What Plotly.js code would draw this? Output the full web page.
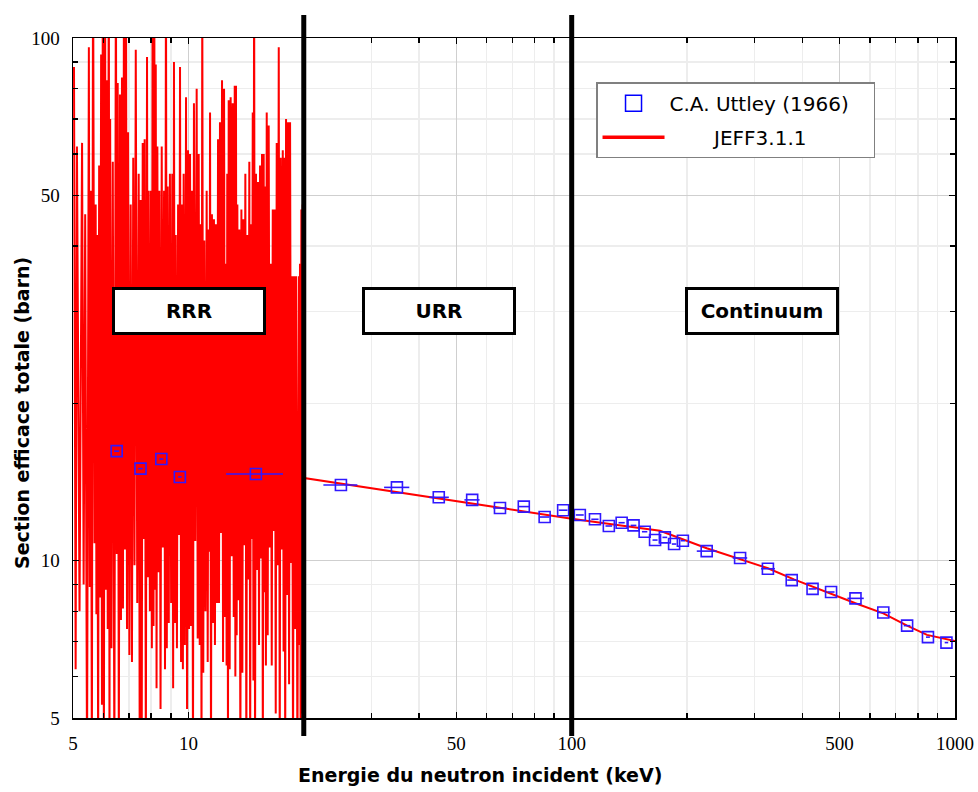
<!DOCTYPE html>
<html>
<head>
<meta charset="utf-8">
<script src="https://cdn.plot.ly/plotly-3.0.1.min.js"></script>
<style>html,body{margin:0;padding:0;background:#fff;}</style>
</head>
<body>
<div id="chart" style="width:978px;height:792px;"></div>
<script>
// ---- C.A. Uttley (1966) experimental points ----
const uttleyE = [6.5, 7.5, 8.5, 9.5, 15, 25, 35, 45, 55, 65, 75, 85, 95, 105, 115, 125, 135, 145, 155, 165, 175, 185, 195, 225, 275, 325, 375, 425, 475, 550, 650, 750, 850, 950];
const uttleySigma = [16.2, 15.0, 15.65, 14.46, 14.65, 13.96, 13.81, 13.22, 13.07, 12.61, 12.69, 12.12, 12.49, 12.23, 12.0, 11.65, 11.82, 11.68, 11.36, 10.95, 11.08, 10.76, 10.92, 10.43, 10.12, 9.65, 9.18, 8.83, 8.71, 8.47, 7.96, 7.51, 7.14, 6.97];
const uttleyErrMinus = [0.1, 0.1, 0.1, 0.1, 2.46, 2.5, 2.6, 2.5, 2.5, 2.6, 2.5, 2.5, 2.5, 2.5, 2.5, 2.5, 2.5, 2.5, 2.5, 2.5, 2.5, 2.5, 2.5, 13, 12, 13, 10, 10, 10, 26, 23, 15, 10, 10];
const uttleyErrPlus  = [0.1, 0.1, 0.1, 0.1, 2.65, 2.6, 2.7, 2.8, 2.5, 2.6, 2.5, 2.5, 2.5, 2.5, 2.5, 2.5, 2.5, 2.5, 2.5, 2.5, 2.5, 2.5, 2.5, 14, 12, 14, 10, 10, 10, 28, 29, 15, 10, 10];

// ---- JEFF3.1.1 : resolved resonance range (peak / dip pairs) ----
const resE = [
5.03,5.08, 5.12,5.20, 5.28,5.33, 5.38,5.44, 5.50,5.53, 5.56,5.60, 5.64,5.69, 5.73,5.755, 5.78,5.815, 5.85,5.885,
5.92,5.95, 5.98,6.02, 6.06,6.09, 6.12,6.16, 6.20,6.225, 6.25,6.30, 6.35,6.41, 6.47,6.505, 6.54,6.585, 6.63,6.67,
6.71,6.75, 6.79,6.83, 6.87,6.915, 6.96,7.015, 7.07,7.125, 7.18,7.235, 7.29,7.355, 7.42,7.465, 7.51,7.555, 7.60,7.645,
7.69,7.745, 7.80,7.84, 7.88,7.935, 7.99,8.03, 8.07,8.11, 8.15,8.185, 8.22,8.26, 8.30,8.35, 8.40,8.46, 8.52,8.58,
8.64,8.69, 8.74,8.785, 8.83,8.89, 8.95,9.015, 9.08,9.125, 9.17,9.22, 9.27,9.335, 9.40,9.455, 9.51,9.57, 9.63,9.675,
9.72,9.79, 9.86,9.92, 9.98,10.04, 10.10,10.16, 10.22,10.28, 10.34,10.425, 10.51,10.575, 10.64,10.705, 10.77,10.82, 10.87,10.935,
11.00,11.08, 11.16,11.23, 11.30,11.345, 11.39,11.455, 11.52,11.59, 11.66,11.73, 11.80,11.875, 11.95,12.02, 12.09,12.165, 12.24,12.315,
12.39,12.46, 12.53,12.58, 12.63,12.685, 12.74,12.815, 12.89,12.97, 13.05,13.13, 13.21,13.26, 13.31,13.365, 13.42,13.50, 13.58,13.665,
13.75,13.83, 13.91,13.995, 14.08,14.165, 14.25,14.335, 14.42,14.495, 14.57,14.645, 14.72,14.78, 14.84,14.925, 15.01,15.10, 15.19,15.285,
15.38,15.47, 15.56,15.64, 15.72,15.785, 15.85,15.93, 16.01,16.105, 16.20,16.30, 16.40,16.50, 16.60,16.70, 16.80,16.90, 17.00,17.105,
17.21,17.31, 17.41,17.52, 17.63,17.715, 17.80,17.89, 17.98,18.09, 18.20,18.31, 18.42,18.53, 18.64,18.75, 18.86,18.975, 19.09,19.25,
19.41,19.48, 19.55,19.63, 19.71,19.79, 19.87,19.94
];
const resSigma = [
88,6.2, 62,8.0, 63,9.0, 46,4, 96,8.9, 51,4, 160,10.8, 48,7.9, 42,4, 57,8.5,
93,5.3, 140,4, 210,8.8, 83,7.4, 180,4, 70,6.8, 58,4, 150,10.3, 82,4, 78,7.7,
84,8.1, 130,10.5, 200,7.4, 66,6.6, 48,6.4, 59,9.8, 95,8.3, 55,4, 49,4, 63,11.0,
64,4, 92,9.3, 51,8.0, 51,6.8, 170,7.5, 120,8.8, 89,5.7, 62,9.5, 51,5.2, 62,10.6,
51,6.2, 150,6.8, 52,7.6, 55,8.3, 55,5.7, 90,7.6, 42,6.8, 48,11.2, 88,6.4, 48,6.2,
55,6.9, 77,5.2, 61,7.4, 60,7.5, 51,4, 75,10.9, 80,7.1, 60,6.9, 44,4, 130,6.1,
41,8.0, 51,6.4, 43,10.4, 72,4, 46,7.6, 45,6.9, 44,8.3, 64,8.3, 69,11.3, 83,6.4,
80,7.8, 37,6.3, 55,4, 76,6.2, 77,10.2, 75,7.8, 81,6.0, 81,7.2, 48,8.4, 43,4,
47,6.1, 45,10.7, 55,4, 42,9.2, 58,4, 44,11.0, 72,5.9, 160,4, 55,9.6, 53,6.9,
57,10.1, 60,4, 60,8.7, 52,6.3, 72,7.2, 68,10.6, 37,6.3, 47,11.4, 47,5.1, 63,9.8,
96,4, 59,10.5, 61,6.7, 59,4, 70,8.6, 69,5.8, 69,9.9, 35,4, 35,7.4, 35,4,
35,6.9, 37,4, 47,5.1, 48,4
];
// ---- JEFF3.1.1 : unresolved range + continuum (smooth) ----
const smoothE = [20, 30, 50, 70, 100, 130, 170, 225, 275, 325, 380, 465, 550, 650, 750, 845, 1000];
const smoothSigma = [14.4, 13.76, 12.97, 12.48, 12.03, 11.72, 11.41, 10.56, 10.07, 9.67, 9.21, 8.68, 8.29, 7.93, 7.51, 7.21, 7.02];

// ---- axis ticks / labels ----
const xTickVals = [5, 10, 50, 100, 500, 1000];
const xTickText = ['5', '10', '50', '100', '500', '1000'];
const xMinorVals = [6, 7, 8, 9, 20, 30, 40, 60, 70, 80, 90, 200, 300, 400, 600, 700, 800, 900];
const yTickVals = [5, 10, 50, 100];
const yTickText = ['5', '10', '50', '100'];
const yMinorVals = [6, 7, 8, 9, 20, 30, 40, 60, 70, 80, 90];
const regionLabels = ['RRR', 'URR', 'Continuum'];
const regionBounds = [20, 100];
const seriesNames = ['C.A. Uttley (1966)', 'JEFF3.1.1'];

const jeffE = resE.concat(smoothE);
const jeffSigma = resSigma.concat(smoothSigma);

const blue = 'rgb(48,24,255)';
const red = '#ff0000';
const nb = '\u00a0\u00a0\u00a0\u00a0\u00a0\u00a0\u00a0';
const traces = [
  {
    x: jeffE, y: jeffSigma, type: 'scatter', mode: 'lines',
    name: seriesNames[1], line: {color: red, width: 2}, showlegend: false
  },
  {
    x: uttleyE, y: uttleySigma, type: 'scatter', mode: 'markers',
    name: seriesNames[0],
    marker: {symbol: 'square-open', size: 11, color: blue, line: {width: 1.6, color: blue}},
    error_x: {type: 'data', symmetric: false, array: uttleyErrPlus, arrayminus: uttleyErrMinus,
              color: blue, thickness: 1.6, width: 0},
    showlegend: false
  },
  // legend entries (larger symbols as in the original legend)
  {
    x: [null], y: [null], type: 'scatter', mode: 'markers', name: seriesNames[0] + '\u00a0\u00a0\u00a0',
    marker: {symbol: 'square-open', size: 20, color: '#0000ff', line: {width: 1.5, color: '#0000ff'}},
    legendgroup: 'a', showlegend: true, hoverinfo: 'skip'
  },
  {
    x: [null], y: [null], type: 'scatter', mode: 'lines', name: nb + seriesNames[1],
    line: {color: red, width: 3.5}, legendgroup: 'b', showlegend: true, hoverinfo: 'skip'
  }
];

const serif = 'Liberation Serif, Times New Roman, serif';
const sans = 'DejaVu Sans, sans-serif';
const lx = Math.log10(5);

const boxY = 0.599;
const boxXs = [0.131, 0.4144, 0.781];
const annotations = regionLabels.map((t, i) => ({
  text: '<b>' + t + '</b>', xref: 'paper', yref: 'paper', x: boxXs[i], y: boxY,
  xanchor: 'center', yanchor: 'middle', showarrow: false,
  font: {family: sans, size: 20, color: '#000'},
  bgcolor: '#ffffff', bordercolor: '#000000', borderwidth: 3, borderpad: 0,
  width: 148, height: 42
}));
annotations.push({
  text: '<b>Energie du neutron incident (keV)</b>', xref: 'paper', yref: 'paper',
  x: 0.4615, y: -0.084, xanchor: 'center', yanchor: 'middle', showarrow: false,
  font: {family: sans, size: 19, color: '#000'}
});
annotations.push({
  text: '<b>Section efficace totale (barn)</b>', xref: 'paper', yref: 'paper',
  x: -0.0578, y: 0.4485, xanchor: 'center', yanchor: 'middle', showarrow: false, textangle: -90,
  font: {family: sans, size: 19, color: '#000'}
});

const shapes = regionBounds.map(v => ({
  type: 'line', xref: 'x', yref: 'paper', x0: v, x1: v, y0: -0.0265, y1: 1.034,
  line: {color: '#000', width: 5}, layer: 'above'
}));

const layout = {
  width: 978, height: 792,
  margin: {l: 73, r: 23, t: 38, b: 74, pad: 0},
  paper_bgcolor: '#fff', plot_bgcolor: '#fff',
  showlegend: true,
  legend: {
    x: 0.593, y: 0.935, xanchor: 'left', yanchor: 'top',
    bgcolor: '#fff', bordercolor: '#808080', borderwidth: 1.5,
    font: {family: sans, size: 20, color: '#000'},
    traceorder: 'grouped', tracegroupgap: 5, itemwidth: 62
  },
  xaxis: {
    type: 'log', range: [lx, 3], tickmode: 'array', tickvals: xTickVals, ticktext: xTickText,
    ticks: 'inside', ticklen: 6, tickwidth: 1.5, tickcolor: '#000',
    showline: true, linecolor: '#000', linewidth: 1.5, mirror: 'allticks',
    showgrid: true, gridcolor: '#cfcfcf', gridwidth: 1.2, zeroline: false,
    tickfont: {family: serif, size: 19, color: '#000'}, ticklabelstandoff: 8,
    minor: {tickmode: 'array', tickvals: xMinorVals, ticks: 'inside', ticklen: 5, tickwidth: 1.5,
            tickcolor: '#000', showgrid: true, gridcolor: '#ededed', gridwidth: 1.5}
  },
  xaxis2: {
    type: 'log', range: [lx, 3], overlaying: 'x', anchor: 'y', side: 'bottom',
    tickmode: 'array', tickvals: xTickVals, ticks: 'outside', ticklen: 5, tickwidth: 1.5, tickcolor: '#000',
    showticklabels: false, showgrid: false, showline: false, zeroline: false
  },
  yaxis: {
    type: 'log', range: [lx, 2], tickmode: 'array', tickvals: yTickVals, ticktext: yTickText,
    ticks: 'inside', ticklen: 6, tickwidth: 1.5, tickcolor: '#000',
    showline: true, linecolor: '#000', linewidth: 1.5, mirror: 'allticks',
    showgrid: true, gridcolor: '#cfcfcf', gridwidth: 1.2, zeroline: false,
    tickfont: {family: serif, size: 19, color: '#000'}, ticklabelstandoff: 8,
    minor: {tickmode: 'array', tickvals: yMinorVals, ticks: 'inside', ticklen: 5, tickwidth: 1.5,
            tickcolor: '#000', showgrid: true, gridcolor: '#ededed', gridwidth: 1.5}
  },
  yaxis2: {
    type: 'log', range: [lx, 2], overlaying: 'y', anchor: 'x', side: 'left',
    tickmode: 'array', tickvals: yTickVals, ticks: 'outside', ticklen: 5, tickwidth: 1.5, tickcolor: '#000',
    showticklabels: false, showgrid: false, showline: false, zeroline: false
  },
  annotations: annotations,
  shapes: shapes
};

Plotly.newPlot('chart', traces, layout, {displayModeBar: false, staticPlot: true});
</script>
</body>
</html>
